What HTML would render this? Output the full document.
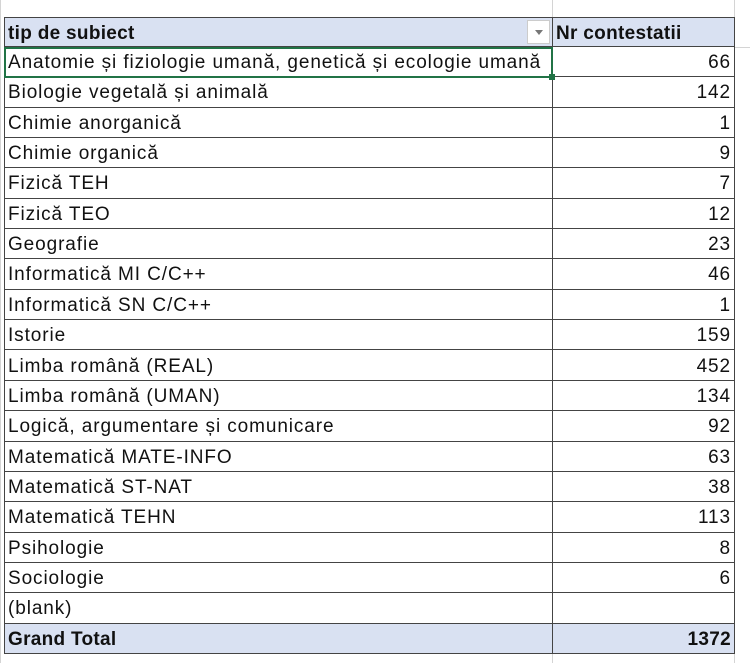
<!DOCTYPE html>
<html><head><meta charset="utf-8"><style>
body{margin:0;width:750px;height:663px;background:#fff;position:relative;overflow:hidden;font-family:"Liberation Sans",Arial,sans-serif;color:#111}
.r{position:absolute;left:4px;width:730px;height:30.35px;border-bottom:1px solid #444;box-sizing:border-box;font-size:19px;letter-spacing:0.9px}
.a{position:absolute;left:4px;top:5px;white-space:nowrap}
.b{position:absolute;right:3px;top:5px}
.h{background:#d9e1f2;font-weight:bold;letter-spacing:0.3px}
.vl{position:absolute;width:1px;background:#444}
.g{position:absolute;background:#d4d4d4}
</style></head><body>
<div class="g" style="left:0;top:0;width:1px;height:663px"></div>
<div class="g" style="left:734px;top:47px;width:16px;height:1px"></div>
<div class="g" style="left:552px;top:0;width:1px;height:17px"></div>
<div class="g" style="left:734px;top:0;width:1px;height:17px"></div>
<div class="g" style="left:552px;top:654px;width:1px;height:9px"></div>
<div class="g" style="left:734px;top:654px;width:1px;height:9px"></div>
<div id="t"></div>
<script>
var rows=[["Anatomie și fiziologie umană, genetică și ecologie umană","66"],["Biologie vegetală și animală","142"],["Chimie anorganică","1"],["Chimie organică","9"],["Fizică TEH","7"],["Fizică TEO","12"],["Geografie","23"],["Informatică MI C/C++","46"],["Informatică SN C/C++","1"],["Istorie","159"],["Limba română (REAL)","452"],["Limba română (UMAN)","134"],["Logică, argumentare și comunicare","92"],["Matematică MATE-INFO","63"],["Matematică ST-NAT","38"],["Matematică TEHN","113"],["Psihologie","8"],["Sociologie","6"],["(blank)",""]];
var h='<div class="r h" style="top:17px;border-top:1px solid #444"><span class="a">tip de subiect</span><span class="a" style="left:552px">Nr contestatii</span></div>';
rows.forEach(function(r,i){var t=47+30.35*i;h+='<div class="r" style="top:'+t+'px"><span class="a">'+r[0]+'</span><span class="b">'+r[1]+'</span></div>';});
h+='<div class="r h" style="top:'+(47+30.35*19)+'px"><span class="a">Grand Total</span><span class="b">1372</span></div>';
h+='<div class="vl" style="left:4px;top:17px;height:637px"></div><div class="vl" style="left:552px;top:17px;height:637px"></div><div class="vl" style="left:734px;top:17px;height:637px"></div>';
h+='<div style="position:absolute;left:527px;top:20px;width:23px;height:24px;background:#fff;border:1px solid #ccc;box-sizing:border-box"><div style="position:absolute;left:7px;top:9px;border-left:4px solid transparent;border-right:4px solid transparent;border-top:5px solid #777"></div></div>';
h+='<div style="position:absolute;left:4px;top:47px;width:549px;height:31px;border:2px solid #217346;box-sizing:border-box"></div><div style="position:absolute;left:549px;top:74px;width:6px;height:6px;background:#217346"></div>';
document.getElementById('t').innerHTML=h;
</script>
</body></html>
